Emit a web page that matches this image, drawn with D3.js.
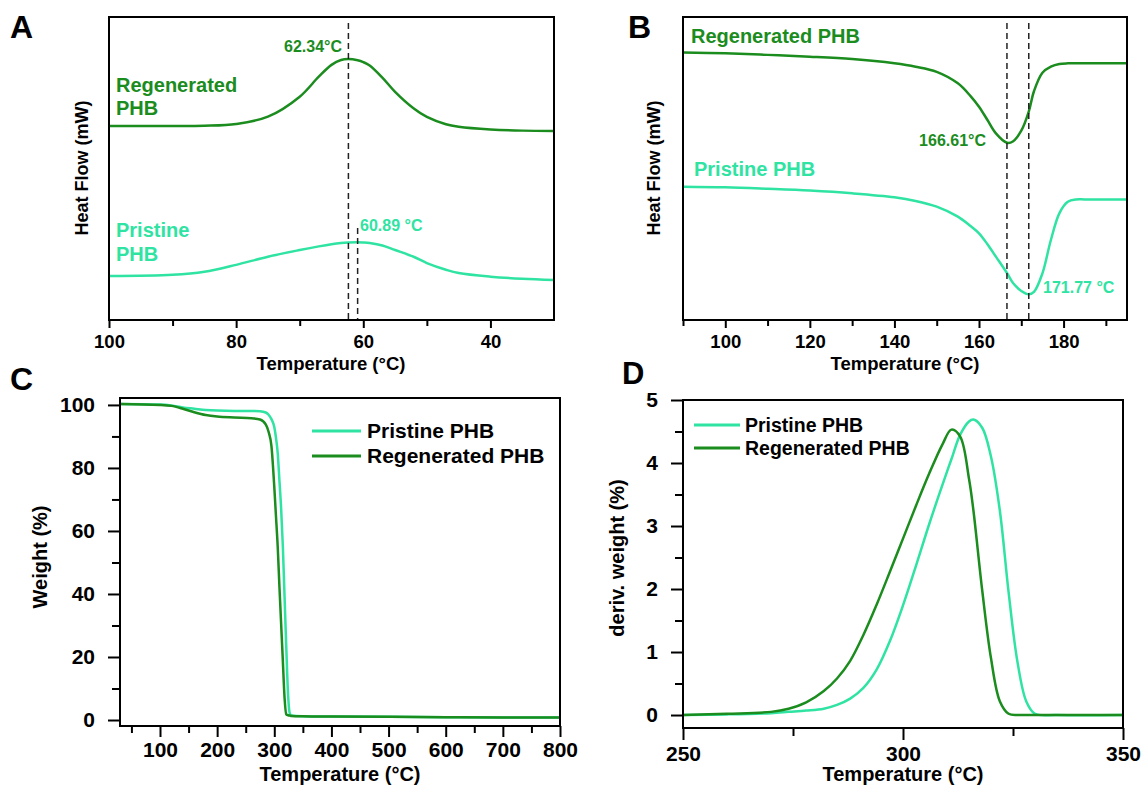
<!DOCTYPE html>
<html>
<head>
<meta charset="utf-8">
<script src="https://cdn.jsdelivr.net/npm/d3@7"></script>
<style>
body{margin:0;background:#fff;}
svg text{font-family:"Liberation Sans",Arial,sans-serif;font-weight:bold;}
</style>
</head>
<body>
<div id="chart"></div>
<script>
// ---- data ----
// A: DSC cooling (crystallisation), heat flow in arbitrary units
var aTemp     = [100, 90, 85, 80, 75, 70, 67, 65, 63.5, 62.34, 60.89, 60, 59, 57, 55, 52, 50, 47, 45, 40, 35, 30];
var aRegen    = [64.0, 64.0, 64.1, 64.7, 67.1, 73.7, 80.3, 84.2, 85.8, 86.1, 85.7, 85.1, 84.0, 80.0, 75.3, 69.7, 67.0, 64.6, 63.8, 62.9, 62.5, 62.4];
var aPristine = [14.5, 14.9, 15.9, 18.2, 20.9, 23.1, 24.3, 25.0, 25.4, 25.6, 25.7, 25.6, 25.4, 24.6, 23.1, 20.8, 18.8, 16.6, 15.5, 14.3, 13.6, 13.2];
var aPeaks    = [62.34, 60.89];

// B: DSC heating (melting)
var bTemp     = [90, 100, 110, 120, 130, 140, 145, 150, 155, 158, 160, 162, 164, 166.61, 168, 170, 171.77, 173, 175, 177, 179, 181, 183, 185, 195];
var bRegen    = [88.3, 88.0, 87.5, 86.9, 86.1, 84.7, 83.6, 81.9, 78.1, 73.9, 70.4, 66.0, 61.6, 58.5, 58.9, 62.5, 68.8, 75.5, 81.6, 83.6, 84.5, 84.7, 84.7, 84.7, 84.7];
var bPristine = [44.0, 43.8, 43.3, 42.7, 41.8, 40.5, 39.3, 37.4, 34.1, 31.0, 28.6, 25.0, 20.9, 15.5, 12.3, 9.6, 8.5, 9.3, 15.4, 26.4, 35.2, 39.0, 39.8, 39.8, 39.8];
var bPeaks    = [166.61, 171.77];

// C: TGA weight (%)
var cTemp     = [30, 100, 120, 140, 160, 180, 200, 230, 260, 275, 285, 290, 295, 300, 303, 306, 309, 312, 315, 318, 321, 324, 327, 330, 350, 400, 500, 600, 700, 800];
var cPristine = [100.3, 100.1, 99.8, 99.2, 98.8, 98.4, 98.2, 98.1, 98.1, 98.0, 97.6, 96.9, 95.5, 93.0, 89.5, 84.7, 76.0, 67.0, 55.0, 39.0, 23.0, 8.5, 2.2, 1.4, 1.2, 1.1, 1.0, 0.9, 0.8, 0.8];
var cRegen    = [100.3, 100.0, 99.7, 98.8, 97.7, 96.8, 96.3, 96.0, 95.8, 95.4, 93.8, 91.5, 87.0, 74.0, 64.5, 55.0, 42.3, 30.5, 18.7, 7.0, 1.8, 1.5, 1.4, 1.3, 1.2, 1.1, 1.0, 0.9, 0.8, 0.8];

// D: DTG deriv. weight (%)
var dTemp     = [250, 260, 270, 274, 278, 282, 285, 288, 291, 294, 297, 300, 303, 306, 309, 311, 313, 315, 316, 318, 320, 322, 324, 326, 328, 330, 335, 350];
var dPristine = [0, 0.01, 0.03, 0.05, 0.07, 0.10, 0.16, 0.26, 0.43, 0.72, 1.17, 1.74, 2.38, 3.04, 3.66, 4.06, 4.45, 4.66, 4.69, 4.56, 4.10, 3.25, 1.95, 0.85, 0.22, 0.02, 0, 0];
var dRegen    = [0, 0.02, 0.05, 0.10, 0.20, 0.38, 0.58, 0.86, 1.27, 1.75, 2.27, 2.80, 3.33, 3.84, 4.30, 4.53, 4.42, 3.75, 3.25, 1.98, 0.90, 0.22, 0.02, 0, 0, 0, 0, 0];

var seriesNames = ['Pristine PHB', 'Regenerated PHB'];

// ---- drawing ----
var dark = '#1b8c1e', mint = '#2fe3a2';
var svg = d3.select('#chart').append('svg').attr('width', 1142).attr('height', 793);

function makePanel(p){
    var g = svg.append('g');
    var x = d3.scaleLinear().domain(p.xDomain).range([p.left, p.right]);
    var y = d3.scaleLinear().domain(p.yDomain).range([p.bottom, p.top]);
    return {g: g, x: x, y: y, p: p};
}

function styleAxis(sel, size){
    sel.select('.domain').remove();
    sel.attr('font-size', size).attr('font-family', null);
    sel.selectAll('line').attr('stroke', '#000').attr('stroke-width', 2);
    sel.selectAll('text').attr('fill', '#000');
}

function bottomAxis(pan, major, minor, majLen, minLen, pad, size){
    var p = pan.p;
    pan.g.append('g').attr('transform', 'translate(0,' + p.bottom + ')')
        .call(d3.axisBottom(pan.x).tickValues(minor).tickFormat('').tickSize(minLen).tickSizeOuter(0))
        .call(styleAxis, size);
    pan.g.append('g').attr('transform', 'translate(0,' + p.bottom + ')')
        .call(d3.axisBottom(pan.x).tickValues(major).tickFormat(d3.format('d')).tickSize(majLen).tickPadding(pad).tickSizeOuter(0))
        .call(styleAxis, size);
}

function leftAxis(pan, major, minor, majLen, minLen, pad, size){
    var p = pan.p;
    pan.g.append('g').attr('transform', 'translate(' + p.left + ',0)')
        .call(d3.axisLeft(pan.y).tickValues(minor).tickFormat('').tickSize(minLen).tickSizeOuter(0))
        .call(styleAxis, size);
    pan.g.append('g').attr('transform', 'translate(' + p.left + ',0)')
        .call(d3.axisLeft(pan.y).tickValues(major).tickFormat(d3.format('d')).tickSize(majLen).tickPadding(pad).tickSizeOuter(0))
        .call(styleAxis, size);
}

function curve(pan, xs, ys, color, shape){
    var line = d3.line()
        .x(function(d, i){ return pan.x(xs[i]); })
        .y(function(d){ return pan.y(d); })
        .curve(shape || d3.curveCatmullRom.alpha(0.5));
    pan.g.append('path').datum(ys).attr('d', line)
        .attr('fill', 'none').attr('stroke', color).attr('stroke-width', 2.5);
}

function frame(pan){
    var p = pan.p;
    pan.g.append('rect').attr('x', p.left).attr('y', p.top)
        .attr('width', p.right - p.left).attr('height', p.bottom - p.top)
        .attr('fill', 'none').attr('stroke', '#000').attr('stroke-width', 2);
}

function dashed(pan, t, y0){
    pan.g.append('line').attr('x1', pan.x(t)).attr('x2', pan.x(t))
        .attr('y1', y0).attr('y2', pan.p.bottom)
        .attr('stroke', '#222').attr('stroke-width', 1.5).attr('stroke-dasharray', '6,4');
}

function label(txt, x, y, size, color, anchor){
    svg.append('text').attr('x', x).attr('y', y).attr('font-size', size)
        .attr('fill', color || '#000').attr('text-anchor', anchor || 'start').text(txt);
}

function yTitle(txt, x, y, size){
    svg.append('text').attr('transform', 'translate(' + x + ',' + y + ') rotate(-90)')
        .attr('text-anchor', 'middle').attr('font-size', size).attr('fill', '#000').text(txt);
}

function legend(x0, x1, xt, ys, size){
    var colors = [mint, dark];
    seriesNames.forEach(function(n, i){
        svg.append('line').attr('x1', x0).attr('x2', x1).attr('y1', ys[i]).attr('y2', ys[i])
            .attr('stroke', colors[i]).attr('stroke-width', 3);
        label(n, xt, ys[i] + 7, size, '#000');
    });
}

// panel A
var pa = makePanel({left: 109, right: 554, top: 17, bottom: 320, xDomain: [100, 30], yDomain: [0, 100]});
bottomAxis(pa, [100, 80, 60, 40], [90, 70, 50], 8, 6, 7, 18.5);
curve(pa, aTemp, aRegen, dark);
curve(pa, aTemp, aPristine, mint);
dashed(pa, aPeaks[0], 23);
dashed(pa, aPeaks[1], 228);
frame(pa);
label('A', 10, 38, 32);
label('62.34°C', 342, 52, 16, dark, 'end');
label('Regenerated', 116, 92, 20, dark);
label('PHB', 116, 115, 20, dark);
label('Pristine', 116, 237, 20, mint);
label('PHB', 116, 261, 20, mint);
label('60.89 °C', 360, 231, 16, mint);
yTitle('Heat Flow (mW)', 88, 168, 18);
label('Temperature (°C)', 331, 370, 18.5, '#000', 'middle');

// panel B
var pb = makePanel({left: 683, right: 1127, top: 17, bottom: 320, xDomain: [90, 195], yDomain: [0, 100]});
bottomAxis(pb, [100, 120, 140, 160, 180], [90, 110, 130, 150, 170, 190], 8, 6, 7, 18.5);
curve(pb, bTemp, bRegen, dark);
curve(pb, bTemp, bPristine, mint);
dashed(pb, bPeaks[0], 23);
dashed(pb, bPeaks[1], 23);
frame(pb);
label('B', 628, 38, 32);
label('Regenerated PHB', 691, 43, 20, dark);
label('Pristine PHB', 694, 176, 20, mint);
label('166.61°C', 986, 146, 16, dark, 'end');
label('171.77 °C', 1043, 293, 16, mint);
yTitle('Heat Flow (mW)', 660, 168, 18);
label('Temperature (°C)', 905, 370, 18.5, '#000', 'middle');

// panel C (steep drop, keep the monotone curve)
var pc = makePanel({left: 120, right: 560, top: 398, bottom: 726, xDomain: [30, 800], yDomain: [-1.9, 102.2]});
bottomAxis(pc, [100, 200, 300, 400, 500, 600, 700, 800], [50, 150, 250, 350, 450, 550, 650, 750], 11, 7, 5, 21);
leftAxis(pc, [0, 20, 40, 60, 80, 100], [10, 30, 50, 70, 90], 12, 8, 13, 21);
curve(pc, cTemp, cPristine, mint, d3.curveMonotoneX);
curve(pc, cTemp, cRegen, dark, d3.curveMonotoneX);
frame(pc);
label('C', 10, 390, 32);
legend(312, 361, 367, [431, 456], 21);
yTitle('Weight (%)', 47, 557, 20);
label('Temperature (°C)', 340, 781, 20, '#000', 'middle');

// panel D
var pd = makePanel({left: 683, right: 1123, top: 400, bottom: 728, xDomain: [250, 350], yDomain: [-0.206, 5]});
bottomAxis(pd, [250, 300, 350], [275, 325], 12, 8, 6, 21);
leftAxis(pd, [0, 1, 2, 3, 4, 5], [0.5, 1.5, 2.5, 3.5, 4.5], 12, 8, 13, 21);
curve(pd, dTemp, dPristine, mint);
curve(pd, dTemp, dRegen, dark);
frame(pd);
label('D', 622, 384, 31);
legend(694, 740, 745, [425, 448], 19.5);
yTitle('deriv. weight (%)', 624, 558, 20);
label('Temperature (°C)', 903, 781, 20, '#000', 'middle');
</script>
</body>
</html>
